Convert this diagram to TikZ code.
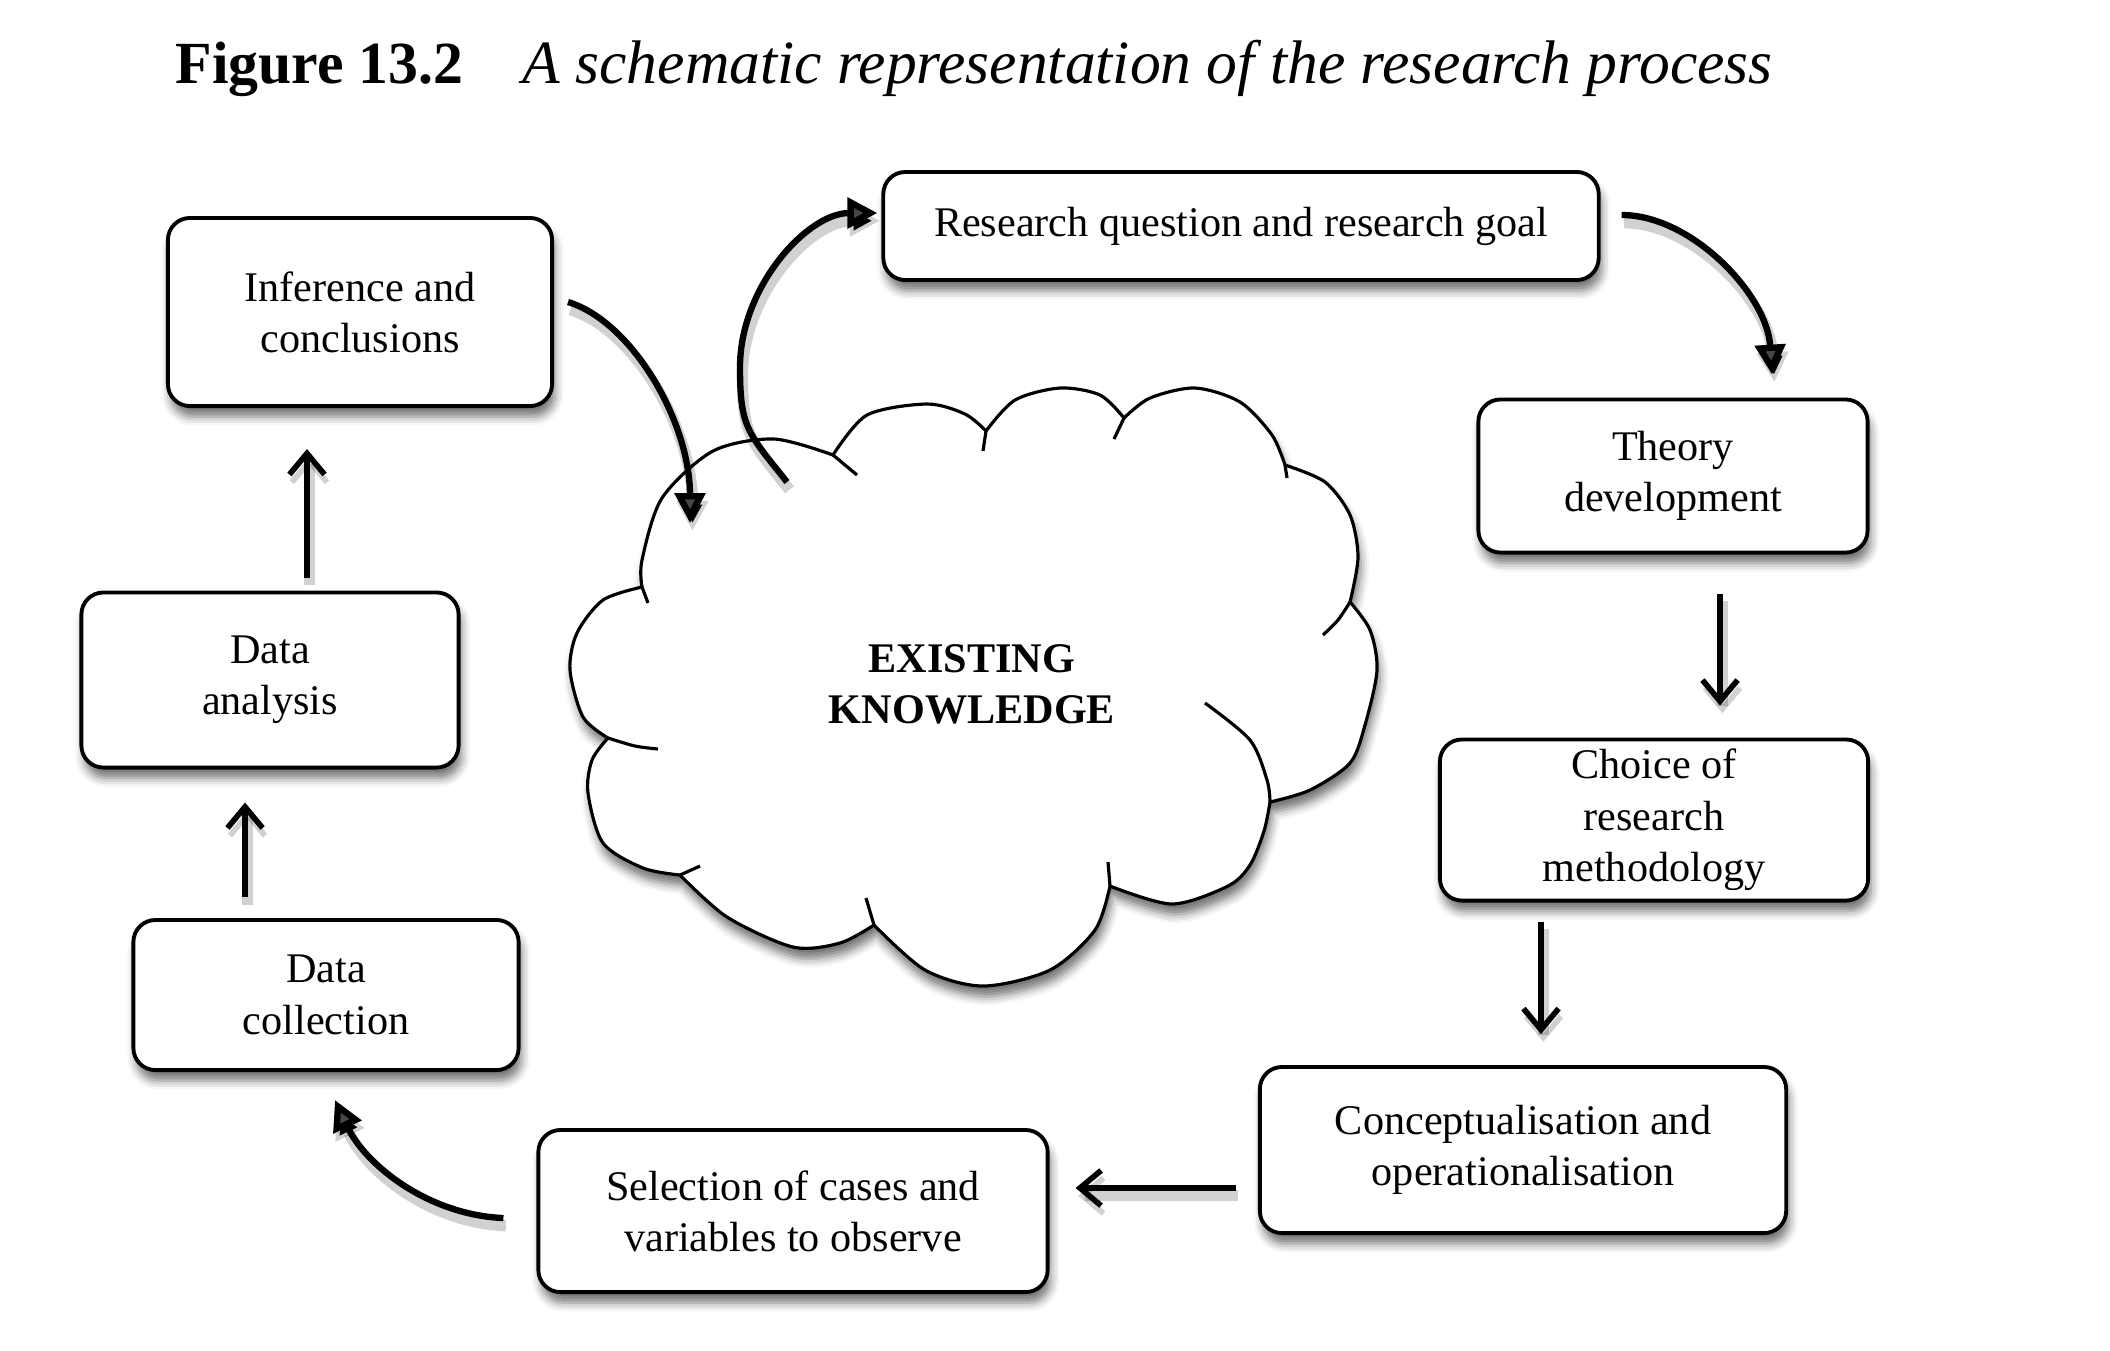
\documentclass[tikz,border=0pt]{standalone}
\usepackage{fontspec}
\setmainfont{Liberation Serif}
\usetikzlibrary{arrows.meta,shadows.blur,calc}
\begin{document}
\begin{tikzpicture}[x=0.01cm,y=-0.01cm,
  box/.style={draw=black, line width=1.1pt, rounded corners=0.22cm, fill=white, align=center, inner sep=0pt,
    font=\fontsize{12}{14.6}\selectfont,
    blur shadow={shadow xshift=0.8pt, shadow yshift=-3pt, shadow blur radius=2.5pt, shadow opacity=55}},
  arrshadow/.style={preaction={draw=black, draw opacity=0.18, line width=3.2pt, transform canvas={shift={(0.7pt,-2.2pt)}}}},
  curvearrow/.style={arrshadow, line width=1.8pt, -{Triangle[length=8.5pt,width=8.5pt]}},
  barbarrow/.style={arrshadow, line width=1.6pt, -{Straight Barb[length=6pt,width=10pt,line width=1.6pt]}},
  cloudline/.style={draw=black, line width=0.9pt},
]
\useasboundingbox (0,0) rectangle (2110,1350);

% title
\node[anchor=base west, font=\bfseries\fontsize{17}{20}\selectfont, inner sep=0pt] (fignum) at (175,83) {Figure 13.2};
\node[anchor=base west, font=\itshape\fontsize{17.5}{20}\selectfont, inner sep=0pt] (figtitle) at (522,83) {A schematic representation of the research process};

% cloud
\filldraw[cloudline, fill=white, blur shadow={shadow xshift=0.8pt, shadow yshift=-3pt, shadow blur radius=2.5pt, shadow opacity=55}]
  (642,587)
  -- plot[smooth] coordinates {(642,587) (642,560) (662,498) (713,451) (774,439) (833,455)}
  -- plot[smooth] coordinates {(833,455) (867,415) (927,404) (965,414) (986,431)}
  -- plot[smooth] coordinates {(986,431) (1015,400) (1060,388) (1100,395) (1124,418)}
  -- plot[smooth] coordinates {(1124,418) (1150,398) (1195,388) (1240,402) (1272,435) (1285,465)}
  -- plot[smooth] coordinates {(1285,465) (1325,482) (1350,515) (1358,557) (1350,602)}
  -- plot[smooth] coordinates {(1350,602) (1370,630) (1377,670) (1365,725) (1350,763) (1310,790) (1270,802)}
  -- plot[smooth] coordinates {(1270,802) (1264,831) (1250,865) (1228,886) (1172,904) (1110,886)}
  -- plot[smooth] coordinates {(1110,886) (1095,930) (1050,970) (983,986) (925,970) (874,925)}
  -- plot[smooth] coordinates {(874,925) (840,943) (793,947) (727,917) (680,875)}
  -- plot[smooth] coordinates {(680,875) (643,868) (603,843) (588,793) (592,760) (608,738)}
  -- plot[smooth] coordinates {(608,738) (583,717) (570,670) (577,633) (603,600) (642,587)}
  -- cycle;
% inner stubs of the cloud
\draw[cloudline] (642,587) -- (648,603);
\draw[cloudline] (833,455) -- (857,475);
\draw[cloudline] (986,431) -- (983,451);
\draw[cloudline] (1124,418) -- (1114,439);
\draw[cloudline] (1285,465) -- (1287,478);
\draw[cloudline] plot[smooth] coordinates {(1350,602) (1338,620) (1323,635)};
\draw[cloudline] plot[smooth] coordinates {(1270,802) (1267,780) (1250,740) (1205,703)};
\draw[cloudline] (1110,886) -- (1108,862);
\draw[cloudline] (874,925) -- (866,898);
\draw[cloudline] (680,875) -- (700,866);
\draw[cloudline] plot[smooth] coordinates {(608,738) (635,746) (658,749)};

\node[font=\bfseries\fontsize{12}{14.6}\selectfont, align=center, inner sep=0pt] (ek) at (972,684) {EXISTING\\KNOWLEDGE};
\coordinate (ckin) at (690,523);
\coordinate (ckout) at (787,482);
\coordinate (cmid) at (740,367);

% boxes
\node[box, minimum width=3.84cm, minimum height=1.88cm] (inf) at (360,312) {Inference and\\conclusions};
\node[box, minimum width=7.15cm, minimum height=1.08cm] (rq) at (1241,226) {Research question and research goal};
\node[box, minimum width=3.89cm, minimum height=1.53cm] (th) at (1673,476) {Theory\\development};
\node[box, minimum width=4.28cm, minimum height=1.61cm] (ch) at (1654,820) {Choice of\\research\\methodology};
\node[box, minimum width=5.26cm, minimum height=1.66cm] (co) at (1523,1150) {Conceptualisation and\\operationalisation};
\node[box, minimum width=5.09cm, minimum height=1.62cm] (se) at (793,1211) {Selection of cases and\\variables to observe};
\node[box, minimum width=3.85cm, minimum height=1.50cm] (dc) at (326,995) {Data\\collection};
\node[box, minimum width=3.77cm, minimum height=1.75cm] (da) at (270,680) {Data\\analysis};

% connectors
\draw[curvearrow] ([shift={(14,-10)}]inf.east) .. controls +(65,20) and +(0,-100) .. (ckin);
\draw[curvearrow] (ckout) .. controls +(-40,-50) and +(0,60) .. (cmid)
   .. controls +(0,-80) and +(-70,0) .. ([shift={(-4,-13)}]rq.west);
\draw[curvearrow] ([shift={(21,-11)}]rq.east) .. controls +(70,0) and +(-5,-80) .. ([shift={(99,-23)}]th.north);
\draw[barbarrow] ([shift={(47,39)}]th.south) -- ([shift={(66,-32)}]ch.north);
\draw[barbarrow] ([shift={(-113,19)}]ch.south) -- ([shift={(18,-31)}]co.north);
\draw[barbarrow] ([shift={(-22,38)}]co.west) -- ([shift={(26,-23)}]se.east);
\draw[curvearrow] ([shift={(-33,7)}]se.west) .. controls +(-75,-3) and +(30,65) .. ([shift={(9,28)}]dc.south);
\draw[barbarrow] ([shift={(-81,-21)}]dc.north) -- ([shift={(-25,33)}]da.south);
\draw[barbarrow] ([shift={(37,-13)}]da.north) -- ([shift={(-53,41)}]inf.south);
\end{tikzpicture}
\end{document}
